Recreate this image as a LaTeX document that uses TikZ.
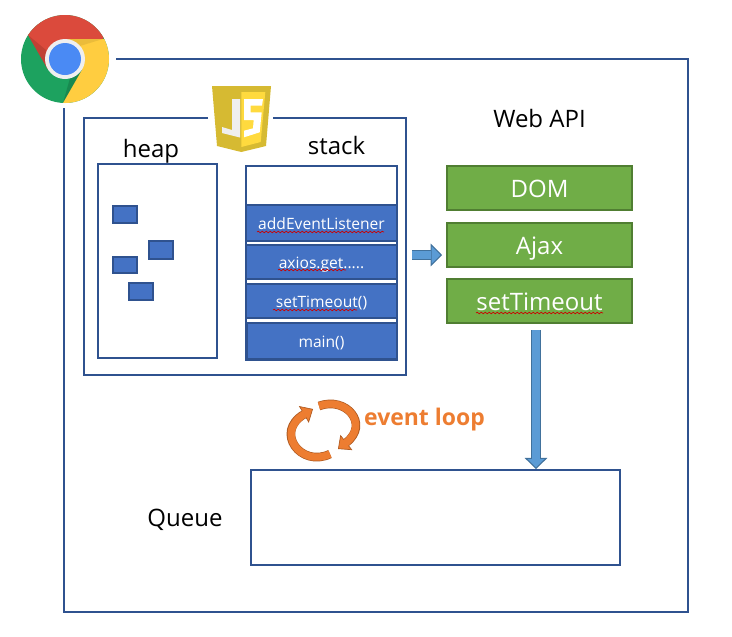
\documentclass[tikz,border=0pt]{standalone}
\usepackage{fontspec}
\setmainfont{Open Sans}
\usetikzlibrary{arrows.meta,decorations.pathmorphing}
\definecolor{boxblue}{HTML}{2F528F}
\definecolor{cellblue}{HTML}{4472C4}
\definecolor{apigreen}{HTML}{70AD47}
\definecolor{apiedge}{HTML}{507E32}
\definecolor{arrowblue}{HTML}{5B9BD5}
\definecolor{arrowedge}{HTML}{41719C}
\definecolor{loopfill}{HTML}{ED7D31}
\definecolor{loopedge}{HTML}{AE5A21}
\definecolor{jsdark}{HTML}{D6BA32}
\definecolor{jslight}{HTML}{FFDA3E}
\definecolor{jswhite}{HTML}{EFEFEF}
\definecolor{chromered}{HTML}{DB4A3C}
\definecolor{chromegreen}{HTML}{1DA25F}
\definecolor{chromeyellow}{HTML}{FFCD40}
\definecolor{chromeblue}{HTML}{4A8AF4}
\tikzset{
  frame/.style={draw=boxblue,line width=1.5pt},
  cell/.style={frame,fill=cellblue,text=white,font=\fontsize{11.7}{13}\selectfont,inner sep=0pt,text height=9pt,text depth=0pt},
  block/.style={frame,fill=cellblue,inner sep=0pt},
  apibox/.style={draw=apiedge,line width=1.5pt,fill=apigreen,text=white,font=\fontsize{18}{20}\selectfont,minimum width=138.75pt,minimum height=32.5pt,inner sep=0pt,text height=14pt,text depth=0pt},
  label/.style={font=\fontsize{18}{20}\selectfont,inner sep=0pt,text height=12pt,text depth=0pt},
  squiggle/.style={draw=red!80!black,line width=.5pt,decorate,decoration={snake,segment length=3pt,amplitude=.6pt}},
  blockarrow/.style={draw=arrowedge,line width=8pt,-{Triangle[length=8.5pt,width=17pt,line width=.8pt,fill=arrowblue]},
    postaction={draw=arrowblue,line width=5.5pt,-,shorten >=8pt}},
  looparrow/.style={draw=loopedge,line width=6.5pt,-{Triangle[length=8pt,width=14.5pt,line width=.5pt,fill=loopfill]},
    postaction={draw=loopfill,line width=5.5pt,-,shorten >=7pt}},
}
\begin{document}
\begin{tikzpicture}[x=.75pt,y=-.75pt]
    \useasboundingbox (0,0) rectangle (732,636);
    % Browser frame
    \draw[frame] (116,59) -- (688,59) -- (688,612) -- (64,612) -- (64,108);
    % Chrome logo
    \begin{scope}
        \clip (65,59) circle (44);
        \fill[chromegreen] (0,0) rectangle (120,120);
        \fill[chromered] (47.7,69.3) -- (28,35) -- (20,0) -- (120,0) -- (103,39) -- (65,39) -- cycle;
        \fill[chromeyellow] (65,39) -- (120,39) -- (120,110) -- (63,103) -- (82.3,69.3) -- cycle;
        \fill[black,opacity=.12] (47.7,69.3) -- (28,35) -- (46,50) -- cycle;
        \fill[black,opacity=.08] (65,39) -- (103,39) -- (80,46) -- cycle;
        \fill[black,opacity=.15] (82.3,69.3) -- (63,103) -- (70,78) -- cycle;
    \end{scope}
    \fill[jswhite] (65,59) circle (20);
    \fill[chromeblue] (65,59) circle (16);
    % Engine box with gap for the logo
    \draw[frame] (208,118) -- (84,118) -- (84,375) -- (406,375) -- (406,118) -- (273,118);
    % JS logo
    \fill[jsdark] (212,86) -- (271,86) -- (266,146) -- (241.3,152) -- (217,146) -- cycle;
    \fill[jslight] (241.3,92) -- (265.3,92) -- (260.7,142) -- (241.3,147) -- cycle;
    \fill[jswhite] (232,99) -- (240,99) -- (240,137.5) -- (222,133) -- (222,127) -- (232,130) -- cycle;
    \fill[white] (244,99) -- (263,99) -- (262,105.7) -- (250.7,105.7) -- (250.7,112.3) -- (261.7,112.3) -- (259.7,132.3) -- (244,137.3) -- (244,130.7) -- (253,128.3) -- (253.7,120) -- (244,120) -- cycle;
    % Heap
    \node[label] (heaplabel) at (151,149) {heap};
    \node[frame,minimum width=89pt,minimum height=145pt,inner sep=0pt] (heap) at (157.5,261) {};
    \node[block,minimum width=18pt,minimum height=13pt] (obja) at (125,214.5) {};
    \node[block,minimum width=18pt,minimum height=13pt] (objb) at (161,250) {};
    \node[block,minimum width=18pt,minimum height=12pt] (objc) at (125,265) {};
    \node[block,minimum width=18pt,minimum height=13pt] (objd) at (141,291.5) {};
    % Stack
    \node[label] (stacklabel) at (336.5,146) {stack};
    \node[frame,minimum width=113pt,minimum height=145pt,inner sep=0pt] (stack) at (321.5,263) {};
    \node[cell,minimum width=113pt,minimum height=27pt] (listener) at (321.5,223) {addEventListener};
    \node[cell,minimum width=113pt,minimum height=25.5pt] (axios) at (321.5,262) {axios.get.....};
    \node[cell,minimum width=113pt,minimum height=25.5pt] (timer) at (321.5,301) {setTimeout()};
    \node[cell,line width=2pt,minimum width=113pt,minimum height=27pt] (mainfn) at (321.5,341) {main()};
    \draw[squiggle] (257,232) -- (384,232);
    \draw[squiggle] (278,270) -- (346,270);
    \draw[squiggle] (273,310) -- (357,310);
    % Web API
    \node[label] (weblabel) at (539.5,119) {Web API};
    \node[apibox] (dom) at (539.5,188) {DOM};
    \node[apibox] (ajax) at (539.5,245) {Ajax};
    \node[apibox] (timeout) at (539.5,301) {setTimeout};
    \draw[squiggle] (476,313) -- (603,313);
    % Queue
    \node[label] (queuelabel) at (185,518) {Queue};
    \node[frame,minimum width=277pt,minimum height=71pt,inner sep=0pt] (queue) at (435.5,517.5) {};
    % Arrows
    \coordinate (pushstart) at (412,255);
    \coordinate (pushend) at (442,255);
    \draw[blockarrow] (pushstart) -- (pushend);
    \coordinate (dropstart) at (536,330);
    \draw[blockarrow] (dropstart) -- (queue.north -| dropstart);
    % Event loop
    \draw[looparrow] (319,406) .. controls (346,396) and (370,424) .. (338,449);
    \draw[looparrow] (330,454) .. controls (301,468) and (274,432) .. (313,409);
    \node[font=\fontsize{17.2}{19}\selectfont\bfseries,text=loopfill,inner sep=0pt,text height=12pt,text depth=0pt] (looplabel) at (424.5,417) {event loop};
\end{tikzpicture}
\end{document}
